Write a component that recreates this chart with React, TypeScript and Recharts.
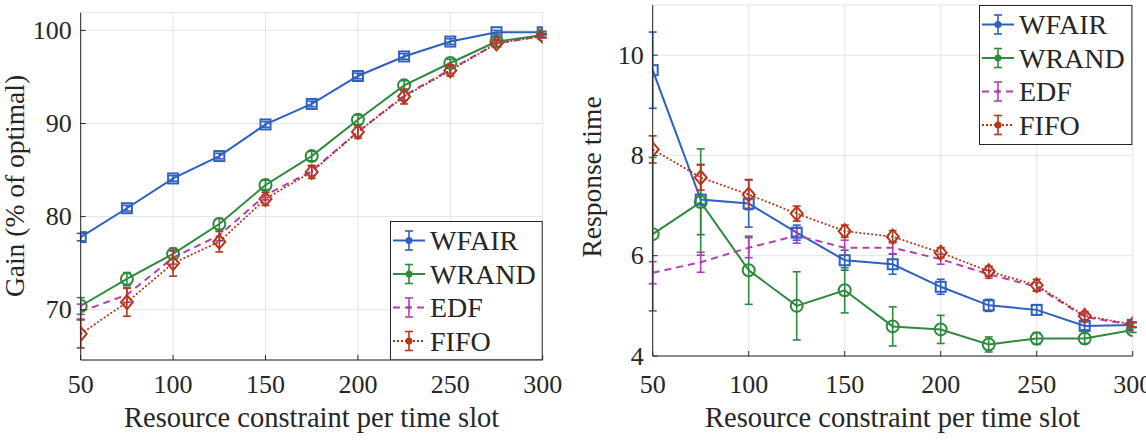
import { LineChart, Line, XAxis, YAxis, CartesianGrid, ErrorBar, Legend, Label } from 'recharts';

const FONT = '"Liberation Serif", "Times New Roman", serif';
const INK = '#262626';
const GRID = '#e4e4e4';

// x values shared by both panels
const resource = [50, 75, 100, 125, 150, 175, 200, 225, 250, 275, 300];
const xTicks = [50, 100, 150, 200, 250, 300];
const gainTicks = [70, 80, 90, 100];
const responseTicks = [4, 6, 8, 10];

// left panel: gain (% of optimal)
const gainWfair = [77.8, 80.9, 84.1, 86.5, 89.9, 92.1, 95.1, 97.2, 98.8, 99.8, 99.8];
const gainWfairErr = [0.4, 0.3, 0.3, 0.3, 0.3, 0.3, 0.3, 0.3, 0.3, 0.2, 0.1];
const gainWrand = [70.4, 73.3, 76.0, 79.2, 83.4, 86.5, 90.4, 94.1, 96.5, 98.8, 99.5];
const gainWrandErr = [0.9, 0.7, 0.6, 0.6, 0.5, 0.5, 0.5, 0.5, 0.4, 0.2, 0.1];
const gainEdf = [69.8, 71.6, 75.6, 78.0, 82.3, 84.9, 89.1, 93.0, 95.8, 98.6, 99.4];
const gainEdfErr = [0.8, 0.8, 0.7, 0.6, 0.5, 0.5, 0.5, 0.5, 0.4, 0.3, 0.2];
const gainFifo = [67.4, 70.8, 75.0, 77.3, 81.9, 84.8, 89.1, 92.9, 95.7, 98.6, 99.4];
const gainFifoErr = [1.5, 1.5, 1.4, 1.1, 0.7, 0.7, 0.7, 0.8, 0.6, 0.4, 0.2];

// right panel: response time
const respWfair = [9.7, 7.12, 7.04, 6.46, 5.91, 5.83, 5.38, 5.01, 4.92, 4.6, 4.62];
const respWfairErr = [0.76, 0.7, 0.47, 0.15, 0.2, 0.2, 0.15, 0.12, 0.1, 0.08, 0.05];
const respWrand = [6.43, 7.07, 5.71, 5.0, 5.31, 4.59, 4.53, 4.23, 4.35, 4.35, 4.52];
const respWrandErr = [1.53, 1.06, 0.68, 0.68, 0.45, 0.39, 0.28, 0.15, 0.12, 0.1, 0.05];
const respEdf = [5.66, 5.87, 6.16, 6.4, 6.16, 6.16, 5.93, 5.63, 5.38, 4.78, 4.62];
const respEdfErr = [0.22, 0.2, 0.2, 0.15, 0.15, 0.12, 0.1, 0.08, 0.08, 0.06, 0.04];
const respFifo = [8.12, 7.56, 7.22, 6.84, 6.49, 6.38, 6.06, 5.69, 5.41, 4.8, 4.63];
const respFifoErr = [0.27, 0.25, 0.3, 0.15, 0.12, 0.12, 0.1, 0.1, 0.12, 0.08, 0.05];

const SERIES = [
  { key: 'wfair', name: 'WFAIR', color: '#2f5fc0', dash: undefined, marker: 'square' },
  { key: 'wrand', name: 'WRAND', color: '#2e8b3e', dash: undefined, marker: 'circle' },
  { key: 'edf', name: 'EDF', color: '#b23fb5', dash: '7 5', marker: 'none' },
  { key: 'fifo', name: 'FIFO', color: '#b5381b', dash: '2 2', marker: 'diamond' },
];

const gainRows = resource.map((x, i) => ({
  x,
  wfair: gainWfair[i], wfairErr: gainWfairErr[i],
  wrand: gainWrand[i], wrandErr: gainWrandErr[i],
  edf: gainEdf[i], edfErr: gainEdfErr[i],
  fifo: gainFifo[i], fifoErr: gainFifoErr[i],
}));

const respRows = resource.map((x, i) => ({
  x,
  wfair: respWfair[i], wfairErr: respWfairErr[i],
  wrand: respWrand[i], wrandErr: respWrandErr[i],
  edf: respEdf[i], edfErr: respEdfErr[i],
  fifo: respFifo[i], fifoErr: respFifoErr[i],
}));

const makeDot = (marker: string, color: string) => (props: any) => {
  const { cx, cy, index } = props;
  if (cx == null || cy == null || marker === 'none') return <g key={index} />;
  if (marker === 'square')
    return <rect key={index} x={cx - 5} y={cy - 5} width={10} height={10} fill="none" stroke={color} strokeWidth={2} />;
  if (marker === 'circle')
    return <circle key={index} cx={cx} cy={cy} r={6} fill="none" stroke={color} strokeWidth={2} />;
  return (
    <polygon
      key={index}
      points={`${cx},${cy - 7} ${cx + 6},${cy} ${cx},${cy + 7} ${cx - 6},${cy}`}
      fill="none"
      stroke={color}
      strokeWidth={2}
    />
  );
};

const makeBottomTick = (labelDy: number) => (props: any) => {
  const { x, y, payload } = props;
  return (
    <g>
      <line x1={x} x2={x} y1={y} y2={y - 5} stroke={INK} />
      <text x={x} y={y + labelDy} textAnchor="middle" fontSize={26} fontFamily={FONT} fill={INK}>
        {payload.value}
      </text>
    </g>
  );
};

const LeftTick = (props: any) => {
  const { x, y, payload } = props;
  return (
    <g>
      <line x1={x} x2={x + 5} y1={y} y2={y} stroke={INK} />
      <text x={x - 9} y={y + 8.5} textAnchor="end" fontSize={26} fontFamily={FONT} fill={INK}>
        {payload.value}
      </text>
    </g>
  );
};

const TopTick = (props: any) => <line x1={props.x} x2={props.x} y1={props.y} y2={props.y + 5} stroke={INK} />;
const RightTick = (props: any) => <line x1={props.x} x2={props.x - 5} y1={props.y} y2={props.y} stroke={INK} />;

const renderLegend = (w: number, h: number) => () => (
  <svg width={w} height={h} style={{ display: 'block' }}>
    <rect x={0.5} y={0.5} width={w - 1} height={h - 1} fill="#fff" stroke={INK} />
    {SERIES.map((s, i) => {
      const cy = 19.5 + i * 33.5;
      return (
        <g key={s.key}>
          <line x1={3} x2={35} y1={cy} y2={cy} stroke={s.color} strokeWidth={2} strokeDasharray={s.dash} />
          <line x1={19} x2={19} y1={cy - 9.5} y2={cy + 9.5} stroke={s.color} strokeWidth={1.6} />
          <line x1={15} x2={23} y1={cy - 9.5} y2={cy - 9.5} stroke={s.color} strokeWidth={1.6} />
          <line x1={15} x2={23} y1={cy + 9.5} y2={cy + 9.5} stroke={s.color} strokeWidth={1.6} />
          <circle cx={19} cy={cy} r={s.marker === 'none' ? 2 : 3.5} fill={s.color} />
          <text x={40} y={cy + 9.5} fontSize={28} fontFamily={FONT} fill={INK}>
            {s.name}
          </text>
        </g>
      );
    })}
  </svg>
);

type PanelProps = {
  data: any[];
  width: number;
  margin: { top: number; right: number; left: number; bottom: number };
  yDomain: [number, number];
  yTicks: number[];
  yTitle: string;
  yTitleX: number;
  yTitleY: number;
  tickDy: number;
  xTitleX: number;
  xTitleY: number;
  legend: { left: number; top: number; width: number; height: number };
};

function Panel(p: PanelProps) {
  return (
    <LineChart width={p.width} height={446} data={p.data} margin={p.margin}>
      <CartesianGrid stroke={GRID} strokeWidth={1} />
      <XAxis
        dataKey="x"
        type="number"
        domain={[50, 300]}
        ticks={xTicks}
        height={70}
        tickSize={0}
        tickMargin={0}
        tickLine={false}
        tick={makeBottomTick(p.tickDy)}
        axisLine={{ stroke: INK }}
        allowDataOverflow
      >
        <Label
          content={() => (
            <text x={p.xTitleX} y={p.xTitleY} textAnchor="middle" fontSize={28.5} fontFamily={FONT} fill={INK}>
              Resource constraint per time slot
            </text>
          )}
        />
      </XAxis>
      <XAxis
        xAxisId="top"
        orientation="top"
        dataKey="x"
        type="number"
        domain={[50, 300]}
        ticks={xTicks}
        height={0}
        tickSize={0}
        tickMargin={0}
        tickLine={false}
        tick={TopTick}
        axisLine={{ stroke: INK }}
        allowDataOverflow
      />
      <YAxis
        domain={p.yDomain}
        ticks={p.yTicks}
        width={60}
        tickSize={0}
        tickMargin={0}
        tickLine={false}
        tick={LeftTick}
        axisLine={{ stroke: INK }}
        allowDataOverflow
      >
        <Label
          content={() => (
            <text
              x={p.yTitleX}
              y={p.yTitleY}
              transform={`rotate(-90, ${p.yTitleX}, ${p.yTitleY})`}
              textAnchor="middle"
              fontSize={27.5}
              fontFamily={FONT}
              fill={INK}
            >
              {p.yTitle}
            </text>
          )}
        />
      </YAxis>
      <YAxis
        yAxisId="right"
        orientation="right"
        domain={p.yDomain}
        ticks={p.yTicks}
        width={0}
        tickSize={0}
        tickMargin={0}
        tickLine={false}
        tick={RightTick}
        axisLine={{ stroke: INK }}
        allowDataOverflow
      />
      <Legend
        layout="vertical"
        align="center"
        verticalAlign="middle"
        content={renderLegend(p.legend.width, p.legend.height)}
        wrapperStyle={{
          position: 'absolute',
          left: p.legend.left,
          top: p.legend.top,
          width: p.legend.width,
          height: p.legend.height,
        }}
      />
      {SERIES.map((s) => (
        <Line
          key={s.key}
          type="linear"
          dataKey={s.key}
          name={s.name}
          stroke={s.color}
          strokeWidth={s.key === 'fifo' ? 1.8 : 2}
          strokeDasharray={s.dash}
          dot={makeDot(s.marker, s.color)}
          activeDot={false}
          isAnimationActive={false}
        >
          <ErrorBar
            dataKey={`${s.key}Err`}
            direction="y"
            width={4}
            stroke={s.color}
            strokeWidth={1.6}
            isAnimationActive={false}
          />
        </Line>
      ))}
    </LineChart>
  );
}

export default function App() {
  return (
    <div
      style={{
        position: 'absolute',
        left: 0,
        top: 0,
        width: 1146,
        height: 446,
        background: '#fff',
        overflow: 'hidden',
      }}
    >
      <div style={{ position: 'absolute', left: 0, top: 0 }}>
        <Panel
          data={gainRows}
          width={570}
          margin={{ top: 12.7, right: 27.3, left: 20.7, bottom: 16 }}
          yDomain={[64.6, 101.9]}
          yTicks={gainTicks}
          yTitle="Gain (% of optimal)"
          yTitleX={23.5}
          yTitleY={186}
          tickDy={32.5}
          xTitleX={311.7}
          xTitleY={427}
          legend={{ left: 390, top: 220.7, width: 152.7, height: 139.3 }}
        />
      </div>
      <div style={{ position: 'absolute', left: 570, top: 0 }}>
        <Panel
          data={respRows}
          width={576}
          margin={{ top: 5, right: 13.3, left: 22.7, bottom: 20 }}
          yDomain={[4, 11]}
          yTicks={responseTicks}
          yTitle="Response time"
          yTitleX={31}
          yTitleY={177}
          tickDy={36.5}
          xTitleX={322.7}
          xTitleY={427}
          legend={{ left: 409.3, top: 5, width: 153.4, height: 140 }}
        />
      </div>
    </div>
  );
}
